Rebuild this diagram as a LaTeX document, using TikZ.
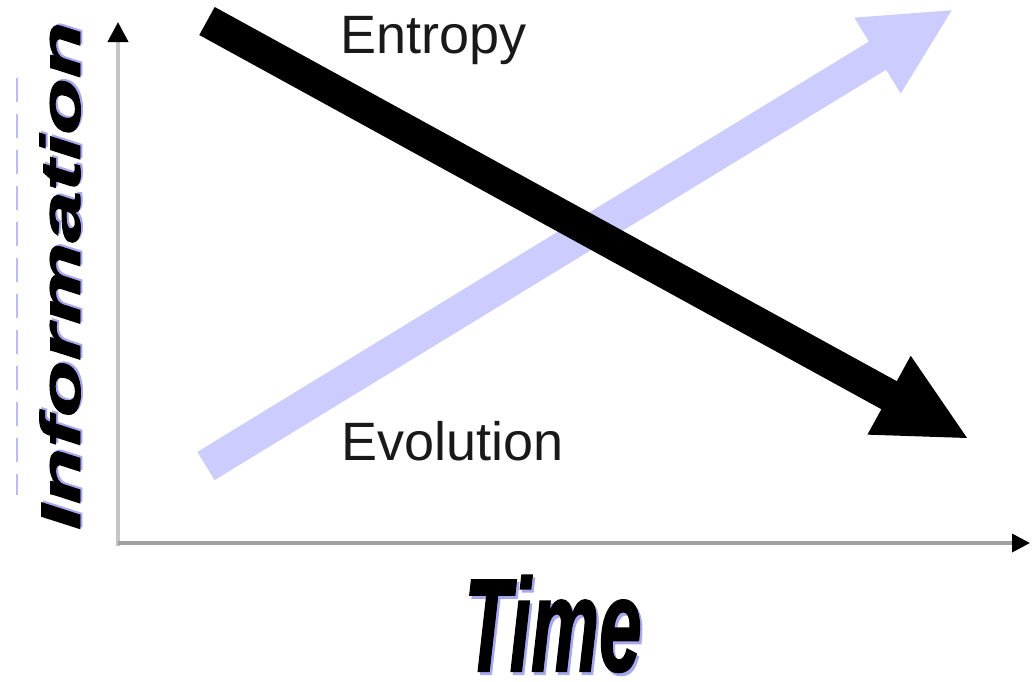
\documentclass[tikz,border=0pt]{standalone}
\usepackage{fontspec}
\usetikzlibrary{arrows.meta}
\newfontfamily\lsans{Liberation Sans}
\newfontfamily\heavy[FakeBold=1.5]{Liberation Sans Bold Italic}
\definecolor{lav}{HTML}{CCCCFF}
\definecolor{lavshadow}{HTML}{A8A8F0}
\definecolor{lavdash}{HTML}{BBBBF5}
\definecolor{yaxiscol}{HTML}{C4C4C4}
\definecolor{xaxiscol}{HTML}{A0A0A0}
\newcommand{\shadowed}[3]{\rlap{\kern#1\raisebox{#2}{\color{lavshadow}#3}}#3}
\tikzset{
  labeltext/.style={font=\lsans\fontsize{54}{60}\selectfont, inner sep=0pt, text=black!90},
  axisline/.style={line width=4pt, -{Triangle[length=20pt,width=20pt,color=black,fill=black]}},
}
\begin{document}
\begin{tikzpicture}[x=1pt,y=-1pt]
\useasboundingbox (0,0) rectangle (1036,681);
\fill[white] (0,0) rectangle (1036,681);

% axes
\coordinate (O) at (118,543);
\coordinate (Ybot) at (118,546);
\coordinate (Ytop) at (118,22);
\coordinate (Xend) at (1030,543);
\draw[axisline, yaxiscol] (Ybot) -- (Ytop);
\draw[axisline, xaxiscol, line width=3.5pt, -{Triangle[length=18pt,width=18pt,color=black,fill=black]}] (O) -- (Xend);

% faint dashed line at left
\coordinate (dtop) at (17,78);
\coordinate (dbot) at (17,495);
\draw[lavdash, line width=2.5pt, dash pattern=on 24pt off 12pt] (dtop) -- (dbot);

% Evolution arrow (lavender)
\coordinate (evtail) at (206,466);
\begin{scope}[shift={(evtail)}, rotate=31.43]
  \fill[lav] (0,-16.5) -- (787,-16.5) -- (787,-44.5) -- (874,0) -- (787,44.5) -- (787,16.5) -- (0,16.5) -- cycle;
\end{scope}

% Entropy arrow (black)
\coordinate (entail) at (207,21);
\begin{scope}[shift={(entail)}, rotate=-28.75]
  \fill[black] (0,-16) -- (778,-16) -- (778,-45) -- (867,0) -- (778,45) -- (778,16) -- (0,16) -- cycle;
\end{scope}

% labels
\node[labeltext, anchor=base west] (entropy) at (340,53) {Entropy};
\node[labeltext, anchor=base west] (evolution) at (341,460) {Evolution};

% Time (with lavender shadow)
\node[anchor=base, inner sep=0pt, text=black] (timelabel) at (553,671) {\scalebox{0.58}[1]{\heavy\fontsize{132}{140}\selectfont\shadowed{4pt}{-3pt}{Time}}};

% Information (with lavender shadow)
\node[rotate=90, inner sep=0pt, text=black] (infolabel) at (61,276) {\scalebox{1.65}[1]{\heavy\fontsize{56}{60}\selectfont\shadowed{1pt}{-2pt}{Information}}};
\end{tikzpicture}
\end{document}
